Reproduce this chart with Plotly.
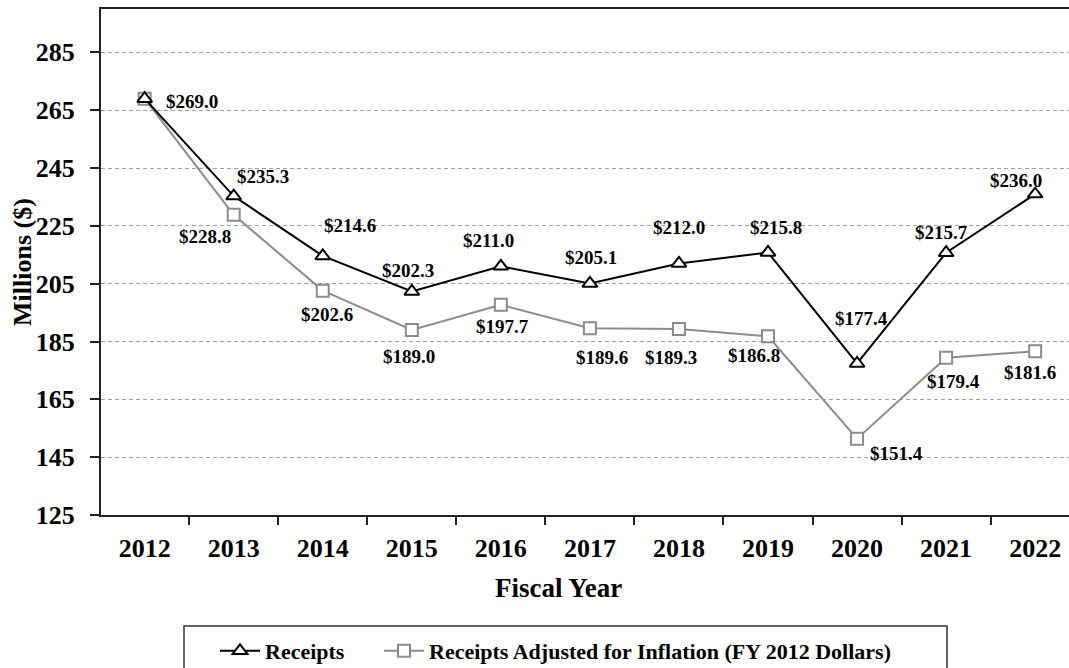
import plotly.graph_objects as go

years = [2012, 2013, 2014, 2015, 2016, 2017, 2018, 2019, 2020, 2021, 2022]
year_labels = ["2012", "2013", "2014", "2015", "2016", "2017", "2018", "2019", "2020", "2021", "2022"]
receipts = [269.0, 235.3, 214.6, 202.3, 211.0, 205.1, 212.0, 215.8, 177.4, 215.7, 236.0]
adjusted = [269.0, 228.8, 202.6, 189.0, 197.7, 189.6, 189.3, 186.8, 151.4, 179.4, 181.6]
y_ticks = [125, 145, 165, 185, 205, 225, 245, 265, 285]

# label offsets in pixels (xshift, yshift)
rec_shift = [(47, -3), (29, 20), (27, 30), (-4, 21), (-12, 26), (1, 26), (0, 36), (8, 25), (4, 45), (-5, 20), (-19, 14)]
adj_shift = [None, (-29, -22), (4, -24), (-3, -27), (2, -22), (12, -29), (-8, -28), (-14, -19), (39, -15), (7, -24), (-5, -21)]

FONT = "Liberation Serif, Times New Roman, serif"
GRAY = "#8c8c8c"

fig = go.Figure()
fig.add_trace(go.Scatter(
    x=years, y=adjusted, name="Receipts Adjusted for Inflation (FY 2012 Dollars)", mode="lines+markers",
    line=dict(color=GRAY, width=2),
    marker=dict(symbol="square", size=12, color="white", line=dict(color=GRAY, width=2)),
    legend="legend2",
))
fig.add_trace(go.Scatter(
    x=years, y=receipts, name="Receipts", mode="lines+markers",
    line=dict(color="black", width=2),
    marker=dict(symbol="triangle-up", size=13, color="white", line=dict(color="black", width=2)),
    legend="legend",
))

lab_font = dict(family=FONT, size=19, color="black", weight="bold")
annotations = []
for yr, v, s in zip(years, receipts, rec_shift):
    annotations.append(dict(x=yr, y=v, xref="x", yref="y", text="$" + f"{v:.1f}", showarrow=False,
                            xshift=s[0], yshift=s[1], font=lab_font))
for yr, v, s in zip(years, adjusted, adj_shift):
    if s is None:
        continue
    annotations.append(dict(x=yr, y=v, xref="x", yref="y", text="$" + f"{v:.1f}", showarrow=False,
                            xshift=s[0], yshift=s[1], font=lab_font))

W, H = 1069, 668
L, R, T, B = 101, 0, 9, 153
pw = W - L - R
ph = H - T - B

annotations.append(dict(xref="paper", yref="paper", x=(558 - L) / pw, y=(515 - 588) / ph,
                        text="Fiscal Year", showarrow=False, xanchor="center", yanchor="middle",
                        font=dict(family=FONT, size=27, color="black", weight="bold")))
annotations.append(dict(xref="paper", yref="paper", x=(22 - L) / pw, y=0.5,
                        text="Millions ($)", showarrow=False, textangle=-90,
                        xanchor="center", yanchor="middle",
                        font=dict(family=FONT, size=26, color="black", weight="bold")))

leg_common = dict(orientation="h", y=(515 - 630) / ph, xanchor="left", yanchor="top",
                  font=dict(family=FONT, size=22, color="black", weight="bold"),
                  bgcolor="rgba(0,0,0,0)", borderwidth=0, itemwidth=40)

fig.update_layout(
    width=W, height=H,
    margin=dict(l=L, r=R, t=T, b=B, pad=0, autoexpand=False),
    paper_bgcolor="white", plot_bgcolor="white",
    showlegend=True,
    legend=dict(x=(215 - L) / pw, **leg_common),
    legend2=dict(x=(379 - L) / pw, **leg_common),
    annotations=annotations,
    shapes=[dict(type="rect", xref="paper", yref="paper",
                 x0=(184 - L) / pw, x1=(947 - L) / pw,
                 y0=(515 - 626) / ph, y1=(515 - 700) / ph,
                 line=dict(color="#333333", width=1.5), fillcolor="rgba(0,0,0,0)")],
)

fig.update_xaxes(
    range=[years[0] - 0.49, years[0] + 10.38],
    tickvals=years, ticktext=year_labels, ticks="",
    minor=dict(tickvals=[y - 0.5 for y in years] + [years[-1] + 0.5], ticks="outside",
               ticklen=8, tickwidth=1.5, tickcolor="#222222", showgrid=False),
    showline=True, linecolor="#222222", linewidth=2, mirror=True,
    showgrid=False, zeroline=False,
    tickfont=dict(family=FONT, size=26, color="black", weight="bold"),
    ticklabelstandoff=9,
)
fig.update_yaxes(
    range=[125, 300], tickvals=y_ticks,
    showline=True, linecolor="#222222", linewidth=2, mirror=False,
    ticks="outside", ticklen=9, tickwidth=1.5, tickcolor="#222222",
    showgrid=True, gridcolor="#a0a0a0", gridwidth=1, griddash="4px,3px",
    zeroline=False,
    tickfont=dict(family=FONT, size=26, color="black", weight="bold"),
    ticklabelstandoff=10,
)

fig.write_html("out.html", config={"displayModeBar": False},
               post_script="document.body.style.margin='0';document.body.style.overflow='hidden';")
